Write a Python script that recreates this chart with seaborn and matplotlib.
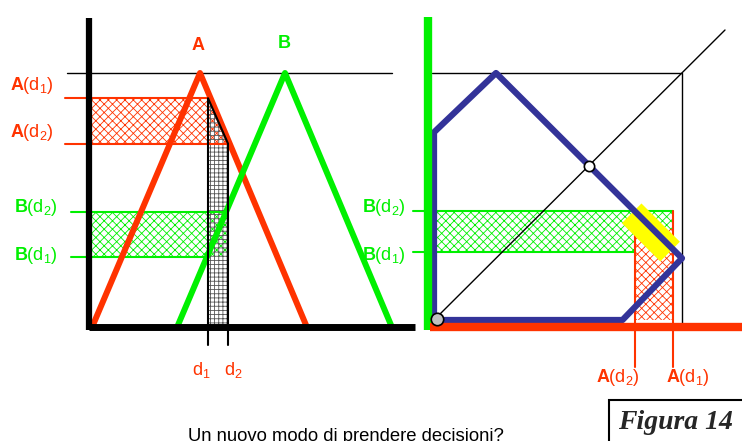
import matplotlib.pyplot as plt
import seaborn as sns
from matplotlib.patches import Rectangle

# left panel: domain axis (x) and membership (y, 0..1)
a_x = [0.4, 11.1, 21.7]
a_mu = [0.0, 1.0, 0.0]
b_x = [8.9, 19.6, 30.2]
b_mu = [0.0, 1.0, 0.0]
d_vals = [11.9, 13.9]        # d1, d2
a_at_d = [0.90, 0.72]        # A(d1), A(d2)
b_at_d = [0.27, 0.45]        # B(d1), B(d2)

# right panel: membership in A (x) vs membership in B (y)
poly_a = [0.0, 0.0, 0.25, 1.0, 0.76, 0.0]
poly_b = [0.0, 0.76, 1.0, 0.25, 0.0, 0.0]
proj_a = [0.964, 0.81]       # A(d1), A(d2) as drawn on the right
proj_b = [0.275, 0.44]       # B(d1), B(d2)
red_band_top = 0.37
yellow_a = [0.797, 0.952]
yellow_b = [0.432, 0.277]
cross_pt = [0.625, 0.625]

RED = '#ff3300'
GREEN = '#00f000'
BLUE = '#333399'
YELLOW = '#ffff00'

sns.set_theme(style='white')
plt.rcParams['font.family'] = ['Liberation Sans', 'DejaVu Sans']
plt.rcParams['mathtext.fontset'] = 'custom'
plt.rcParams['mathtext.rm'] = 'Liberation Sans'
plt.rcParams['mathtext.bf'] = 'Liberation Sans:bold'
plt.rcParams['hatch.linewidth'] = 0.6

W, H = 742, 441
fig = plt.figure(figsize=(W / 100, H / 100), dpi=100)


def frame(ox, oy, sx, sy):
    # full-figure axes whose origin sits at pixel (ox, oy), sx/sy pixels per unit
    ax = fig.add_axes([0, 0, 1, 1])
    ax.set_xlim(-ox / sx, (W - ox) / sx)
    ax.set_ylim((oy - H) / sy, oy / sy)
    ax.set_axis_off()
    ax.patch.set_alpha(0)
    return ax


left = frame(89, 325, 10, 252)
right = frame(434, 320, 248, 247)


def lx(px): return (px - 89) / 10
def ly(py): return (325 - py) / 252
def rx(px): return (px - 434) / 248
def ry(py): return (320 - py) / 247


def lab(letter, i):
    return rf'$\mathbf{{{letter}}}\mathrm{{(d_{i})}}$'


d1, d2 = d_vals

# ---- left panel ----
left.fill_between([0, d1, d2], a_at_d[1], [a_at_d[0], a_at_d[0], a_at_d[1]],
                  facecolor='white', edgecolor=RED, hatch='xxxx', linewidth=0, zorder=1)
left.fill_between([0, d2], b_at_d[0], b_at_d[1],
                  facecolor='white', edgecolor=GREEN, hatch='xxxx', linewidth=0, zorder=1)
left.fill_between([d1, d2], 0, [a_at_d[0], a_at_d[1]],
                  facecolor='none', edgecolor='#555555', hatch='++++', linewidth=0, zorder=2)
left.plot([d1, d1, d2, d2], [0, a_at_d[0], a_at_d[1], 0], color='black', lw=1.5, zorder=4)

sns.lineplot(x=a_x, y=a_mu, sort=False, estimator=None, ax=left, color=RED, lw=4.3, zorder=3)
sns.lineplot(x=b_x, y=b_mu, sort=False, estimator=None, ax=left, color=GREEN, lw=4.3, zorder=3)

left.plot([0, 0], [ly(330), ly(18)], color='black', lw=4.5, solid_capstyle='butt', zorder=5)
left.plot([0, lx(415)], [ly(327)] * 2, color='black', lw=5, solid_capstyle='butt', zorder=5)
left.plot([lx(67), lx(392)], [1.0, 1.0], color='black', lw=1, zorder=2)

left.plot([lx(65), d1], [a_at_d[0]] * 2, color=RED, lw=1.5, zorder=2)
left.plot([lx(65), d2], [a_at_d[1]] * 2, color=RED, lw=1.5, zorder=2)
left.plot([lx(71), d2], [b_at_d[1]] * 2, color=GREEN, lw=1.5, zorder=2)
left.plot([lx(71), d1], [b_at_d[0]] * 2, color=GREEN, lw=1.5, zorder=2)
for d in d_vals:
    left.plot([d, d], [ly(330), ly(345)], color='black', lw=1.5)

left.text(lx(10), a_at_d[0] + ly(85) - ly(98), lab('A', 1), color=RED, fontsize=13, va='center')
left.text(lx(10), a_at_d[1] + ly(133) - ly(144), lab('A', 2), color=RED, fontsize=13, va='center')
left.text(lx(14), b_at_d[1] + ly(208) - ly(212), lab('B', 2), color=GREEN, fontsize=13, va='center')
left.text(lx(14), b_at_d[0] + ly(255) - ly(256), lab('B', 1), color=GREEN, fontsize=13, va='center')
left.text(lx(198), ly(46), 'A', color=RED, fontsize=13, weight='bold', ha='center', va='center')
left.text(lx(284), ly(44), 'B', color=GREEN, fontsize=13, weight='bold', ha='center', va='center')
for i, (d, off) in enumerate(zip(d_vals, [-0.7, 0.5])):
    left.text(d + off, ly(370), rf'$\mathrm{{d_{i + 1}}}$', color=RED, fontsize=13, ha='center', va='center')

# ---- right panel ----
right.fill_between([0, proj_a[0]], proj_b[0], proj_b[1],
                   facecolor='white', edgecolor=GREEN, hatch='xxxx', linewidth=0, zorder=1)
right.fill_between([proj_a[1], proj_a[0]], 0, red_band_top,
                   facecolor='white', edgecolor=RED, hatch='xxxx', linewidth=0, zorder=1)
right.plot([rx(413), proj_a[0]], [proj_b[1]] * 2, color=GREEN, lw=1.5, zorder=2)
right.plot([rx(413), proj_a[1]], [proj_b[0]] * 2, color=GREEN, lw=1.5, zorder=2)
right.plot([proj_a[1]] * 2, [red_band_top, ry(367)], color=RED, lw=1.5, zorder=2)
right.plot([proj_a[0]] * 2, [proj_b[1], ry(367)], color=RED, lw=1.5, zorder=2)

right.plot([rx(432), 1, 1], [1, 1, ry(327)], color='black', lw=1, zorder=2)
right.plot([0, rx(725)], [0, ry(30)], color='black', lw=1, zorder=2)

right.plot(yellow_a, yellow_b, color=YELLOW, lw=20, solid_capstyle='butt', zorder=3)
sns.lineplot(x=poly_a, y=poly_b, sort=False, estimator=None, ax=right, color=BLUE, lw=4.5, zorder=4)

right.plot([rx(428)] * 2, [ry(330), ry(17)], color=GREEN, lw=6, solid_capstyle='butt', zorder=5)
right.plot([rx(430), rx(745)], [ry(327)] * 2, color=RED, lw=6, solid_capstyle='butt', zorder=5)

right.scatter([0.012], [0.004], s=80, color='#c0c0c0', edgecolor='black', linewidth=1.2, zorder=6)
right.scatter([cross_pt[0]], [cross_pt[1]], s=55, color='white', edgecolor='black', linewidth=1.2, zorder=6)

right.text(rx(406), proj_b[1] + ry(208) - ry(212), lab('B', 2), color=GREEN, fontsize=13, ha='right', va='center')
right.text(rx(406), proj_b[0] + ry(255) - ry(252), lab('B', 1), color=GREEN, fontsize=13, ha='right', va='center')
right.text(proj_a[1] + rx(617) - rx(634), ry(378), lab('A', 2), color=RED, fontsize=13, ha='center', va='center')
right.text(proj_a[0] + rx(688) - rx(673), ry(378), lab('A', 1), color=RED, fontsize=13, ha='center', va='center')

# ---- captions ----
fig.text(346 / W, (H - 441) / H, 'Un nuovo modo di prendere decisioni?',
         fontsize=13.3, color='black', ha='center', va='baseline')
fig.add_artist(Rectangle((609 / W, -0.05), 0.3, (H - 400) / H + 0.05, transform=fig.transFigure,
                         fill=False, edgecolor='black', lw=1.5))
fig.text(675 / W, (H - 429) / H, 'Figura 14', family='Liberation Serif', weight='bold',
         style='italic', fontsize=20, ha='center', va='baseline')

fig.savefig('out.png', dpi=100)
